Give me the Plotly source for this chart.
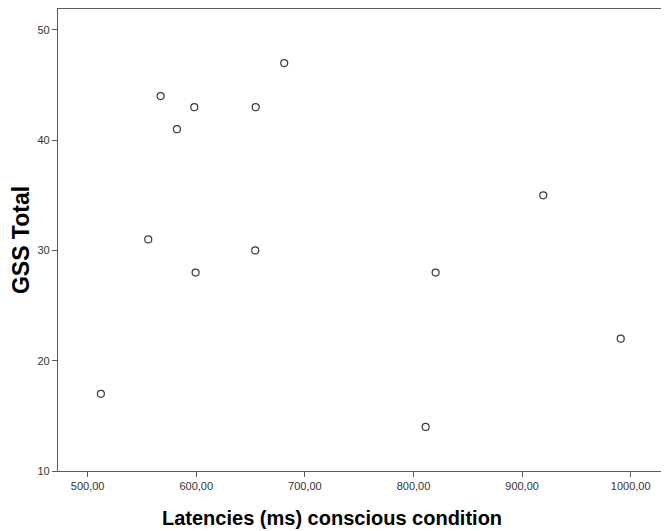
import plotly.graph_objects as go

latency = [512.2, 555.8, 567.2, 582.2, 598.2, 599.4, 654.7, 654.3, 681.0, 811.2, 820.4, 919.5, 990.8]
gss = [17, 31, 44, 41, 43, 28, 43, 30, 47, 14, 28, 35, 22]

x_tickvals = [500, 600, 700, 800, 900, 1000]
x_ticktext = ["500,00", "600,00", "700,00", "800,00", "900,00", "1000,00"]
y_tickvals = [10, 20, 30, 40, 50]
y_ticktext = ["10", "20", "30", "40", "50"]

x_title = "Latencies (ms) conscious condition"
y_title = "GSS Total"

fig = go.Figure()
fig.add_trace(go.Scatter(
    x=latency, y=gss, mode="markers",
    marker=dict(symbol="circle-open", size=7, color="#3a3a3a", line=dict(width=1.2, color="#3a3a3a")),
    showlegend=False,
))

axis_common = dict(
    showline=True, mirror=True, linecolor="#5a5a5a", linewidth=1.3,
    showgrid=False, zeroline=False, ticks="outside", ticklen=5, tickwidth=1.3,
    tickcolor="#5a5a5a", automargin=False,
    tickfont=dict(family="Liberation Sans, Arial, sans-serif", size=11, color="#333333"),
)

fig.update_layout(
    width=661, height=523,
    margin=dict(l=50, r=8, t=1, b=60, autoexpand=False),
    paper_bgcolor="white", plot_bgcolor="white",
    xaxis=dict(
        range=[472.7, 1027.9], tickvals=x_tickvals, ticktext=x_ticktext,
        **axis_common,
    ),
    yaxis=dict(
        range=[10, 51.9], tickvals=y_tickvals, ticktext=y_ticktext,
        title=dict(text=y_title, standoff=6,
                   font=dict(family="Liberation Sans, Arial, sans-serif", size=23, color="#000000", weight="bold")),
        **axis_common,
    ),
    annotations=[dict(
        text=x_title, xref="paper", yref="paper", x=0.454, y=-0.101,
        xanchor="center", yanchor="middle", showarrow=False,
        font=dict(family="Liberation Sans, Arial, sans-serif", size=20, color="#000000", weight="bold"),
    )],
)

fig.write_html("out.html")
